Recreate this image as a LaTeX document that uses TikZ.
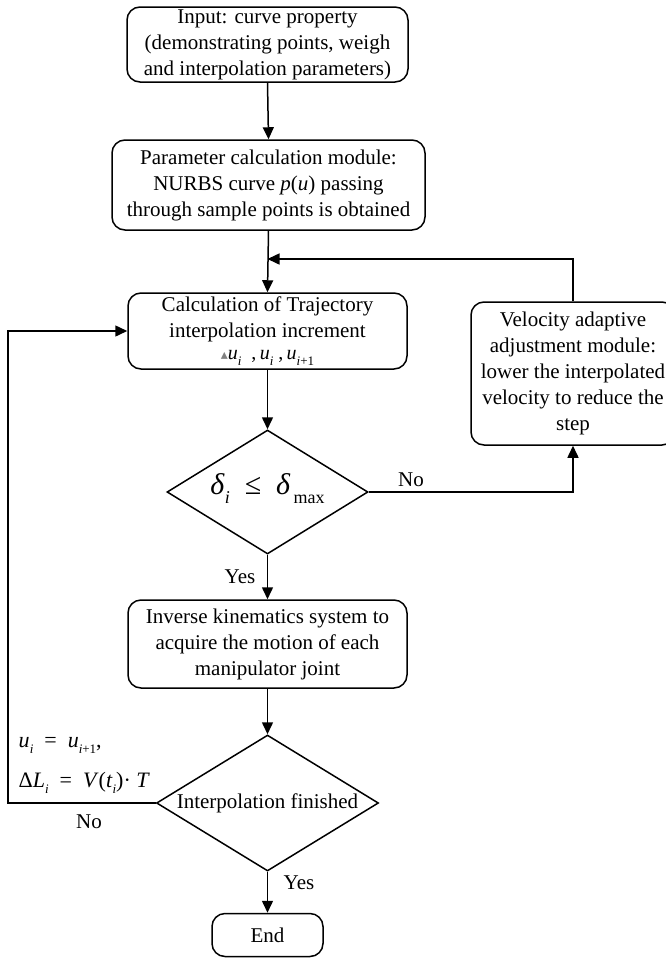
\documentclass[tikz,border=0pt]{standalone}
\usepackage{fontspec}
\setmainfont{Liberation Serif}
\newfontfamily\dejavu{DejaVu Sans}
\usetikzlibrary{shapes.geometric,arrows.meta}
\newcommand{\lsb}[1]{\raisebox{-6pt}{\fontsize{13}{13}\selectfont #1}}
\newcommand{\bsb}[1]{\raisebox{-9pt}{\fontsize{18}{18}\selectfont #1}}
\begin{document}
\begin{tikzpicture}[x=1pt,y=-1pt,
  line width=1.5pt,
  every node/.style={font=\fontsize{21}{26}\selectfont, inner sep=0pt},
  procbox/.style={draw, rounded corners=13pt, align=center},
  decbox/.style={draw, diamond, inner sep=0pt},
  arr/.style={-{Triangle[length=12pt,width=11pt]}},
  lbl/.style={font=\fontsize{21}{24}\selectfont}
]
\useasboundingbox (0,0) rectangle (665,959);
\node[procbox, minimum width=281, minimum height=75] (in) at (267.5,44.5)
  {Input: curve property\\ (demonstrating points, weigh\\and interpolation parameters)};
\node[procbox, minimum width=313, minimum height=90] (par) at (268.5,185)
  {Parameter calculation module:\\NURBS curve \textit{p}(\textit{u}) passing\\through sample points is obtained};
\node[procbox, minimum width=279, minimum height=76] (calc) at (267.5,331)
  {Calculation of Trajectory\\interpolation increment\\[-4pt]
   {\fontsize{20}{20}\selectfont{\dejavu\fontsize{14}{14}\selectfont\color{gray}▴}\textit{u}\lsb{\textit{i}}\ \ ,\,\textit{u}\lsb{\textit{i}}\ ,\,\textit{u}\lsb{\textit{i}+1}}};
\node[decbox, minimum width=201, minimum height=124] (d1) at (267.5,492) {};
\node (d1t) at (267.5,489)
  {\fontsize{30}{32}\selectfont\textit{δ}\bsb{\textit{i}}\ \ ≤\ \ \textit{δ}\bsb{\,max}};
\node[procbox, minimum width=279, minimum height=88] (inv) at (267.5,644)
  {Inverse kinematics system to\\acquire the motion of each\\manipulator joint};
\node[decbox, minimum width=222, minimum height=136] (d2) at (267.5,803) {};
\node (d2t) at (267.5,803) {Interpolation finished};
\node[procbox, minimum width=111, minimum height=43] (end) at (267.5,935) {End};
\node[procbox, minimum width=204, minimum height=143] (vel) at (573,373.5)
  {Velocity adaptive\\adjustment module:\\lower the interpolated\\velocity to reduce the\\step};

\coordinate (fb) at (267.5,259);
\coordinate (lx) at (8,803);

\draw[arr] (in.south) -- (par.north);
\draw[arr] (par.south) -- (calc.north);
\draw[arr] (calc.south) -- (d1.north);
\draw[arr] (d1.south) -- (inv.north);
\draw[arr] (inv.south) -- (d2.north);
\draw[arr] (d2.south) -- (end.north);
\draw[arr] (d1.east) -| (vel.south);
\draw[arr] (vel.north) |- (fb);
\draw[arr] (d2.west) -- (lx) |- (calc.west);

\node[lbl] (yes1) at (240,577) {Yes};
\node[lbl] (no1) at (411,480) {No};
\node[lbl] (yes2) at (299,883) {Yes};
\node[lbl] (no2) at (89,822) {No};
\node[lbl, anchor=base west] (eq1) at (18,747)
  {\fontsize{22}{24}\selectfont\textit{u}\lsb{\textit{i}}\ \ =\ \ \textit{u}\lsb{\textit{i}+1},};
\node[lbl, anchor=base west] (eq2) at (18,787)
  {\fontsize{22}{24}\selectfont Δ\textit{L}\lsb{\textit{i}}\ \ =\ \ \textit{V}(\textit{t}\lsb{\textit{i}})·\ \textit{T}};
\end{tikzpicture}
\end{document}
